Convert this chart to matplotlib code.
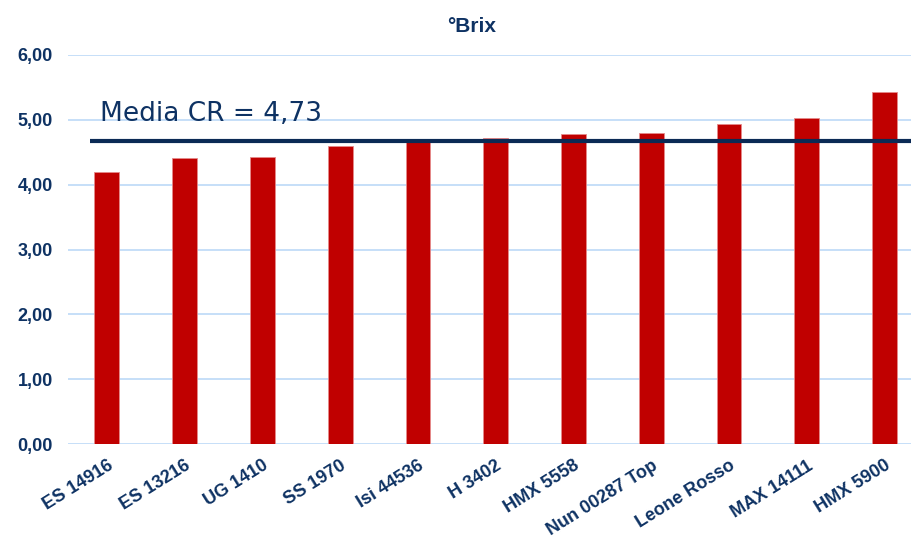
import matplotlib
matplotlib.use("Agg")
import matplotlib.pyplot as plt

categories = ["ES 14916", "ES 13216", "UG 1410", "SS 1970", "Isi 44536", "H 3402",
              "HMX 5558", "Nun 00287 Top", "Leone Rosso", "MAX 14111", "HMX 5900"]
brix = [4.20, 4.41, 4.43, 4.59, 4.69, 4.72, 4.78, 4.80, 4.94, 5.03, 5.43]
media_line = 4.68
media_label = "Media CR = 4,73"
yticks = [0, 1, 2, 3, 4, 5, 6]
ytick_labels = ["0,00", "1,00", "2,00", "3,00", "4,00", "5,00", "6,00"]
title = "°Brix"

navy = "#0E3263"
red = "#C00000"
grid_c = "#C2DCF8"

fig = plt.figure(figsize=(9.11, 5.40), dpi=100)
ax = fig.add_axes([68/911, 96/540, 843/911, 389/540])

x = list(range(len(categories)))
ax.bar(x, brix, width=0.32, color=red, edgecolor="#E58A8A", linewidth=0.6, zorder=2)
ax.plot([-0.217, 11], [media_line, media_line], color="#0B2A55", linewidth=3.0, zorder=3,
        solid_capstyle="butt")

ax.set_xlim(-0.5, 10.34)
ax.set_ylim(0, 6)
ax.set_yticks(yticks)
ax.set_yticklabels(ytick_labels)
ax.set_xticks(x)
ax.set_xticklabels(categories, rotation=32, ha="right", va="top", rotation_mode="anchor")
for lab in ax.get_xticklabels() + ax.get_yticklabels():
    lab.set_fontfamily("Liberation Sans")
    lab.set_fontweight("bold")
    lab.set_fontsize(13)
    lab.set_color(navy)
ax.tick_params(axis="y", length=0, pad=11)
ax.tick_params(axis="x", length=0, pad=9.5)
ax.yaxis.grid(True, color=grid_c, linewidth=1.3, zorder=0)
ax.set_axisbelow(True)
for s in ax.spines.values():
    s.set_visible(False)

fig.text(472/911, (540-31.7)/540, title, ha="center", va="baseline",
         fontfamily="Liberation Sans", fontweight="bold", fontsize=15, color=navy)
fig.text(100/911, (540-121)/540, media_label, ha="left", va="baseline",
         fontfamily="DejaVu Sans", fontsize=19, color=navy)

fig.savefig("out.png", dpi=100)
